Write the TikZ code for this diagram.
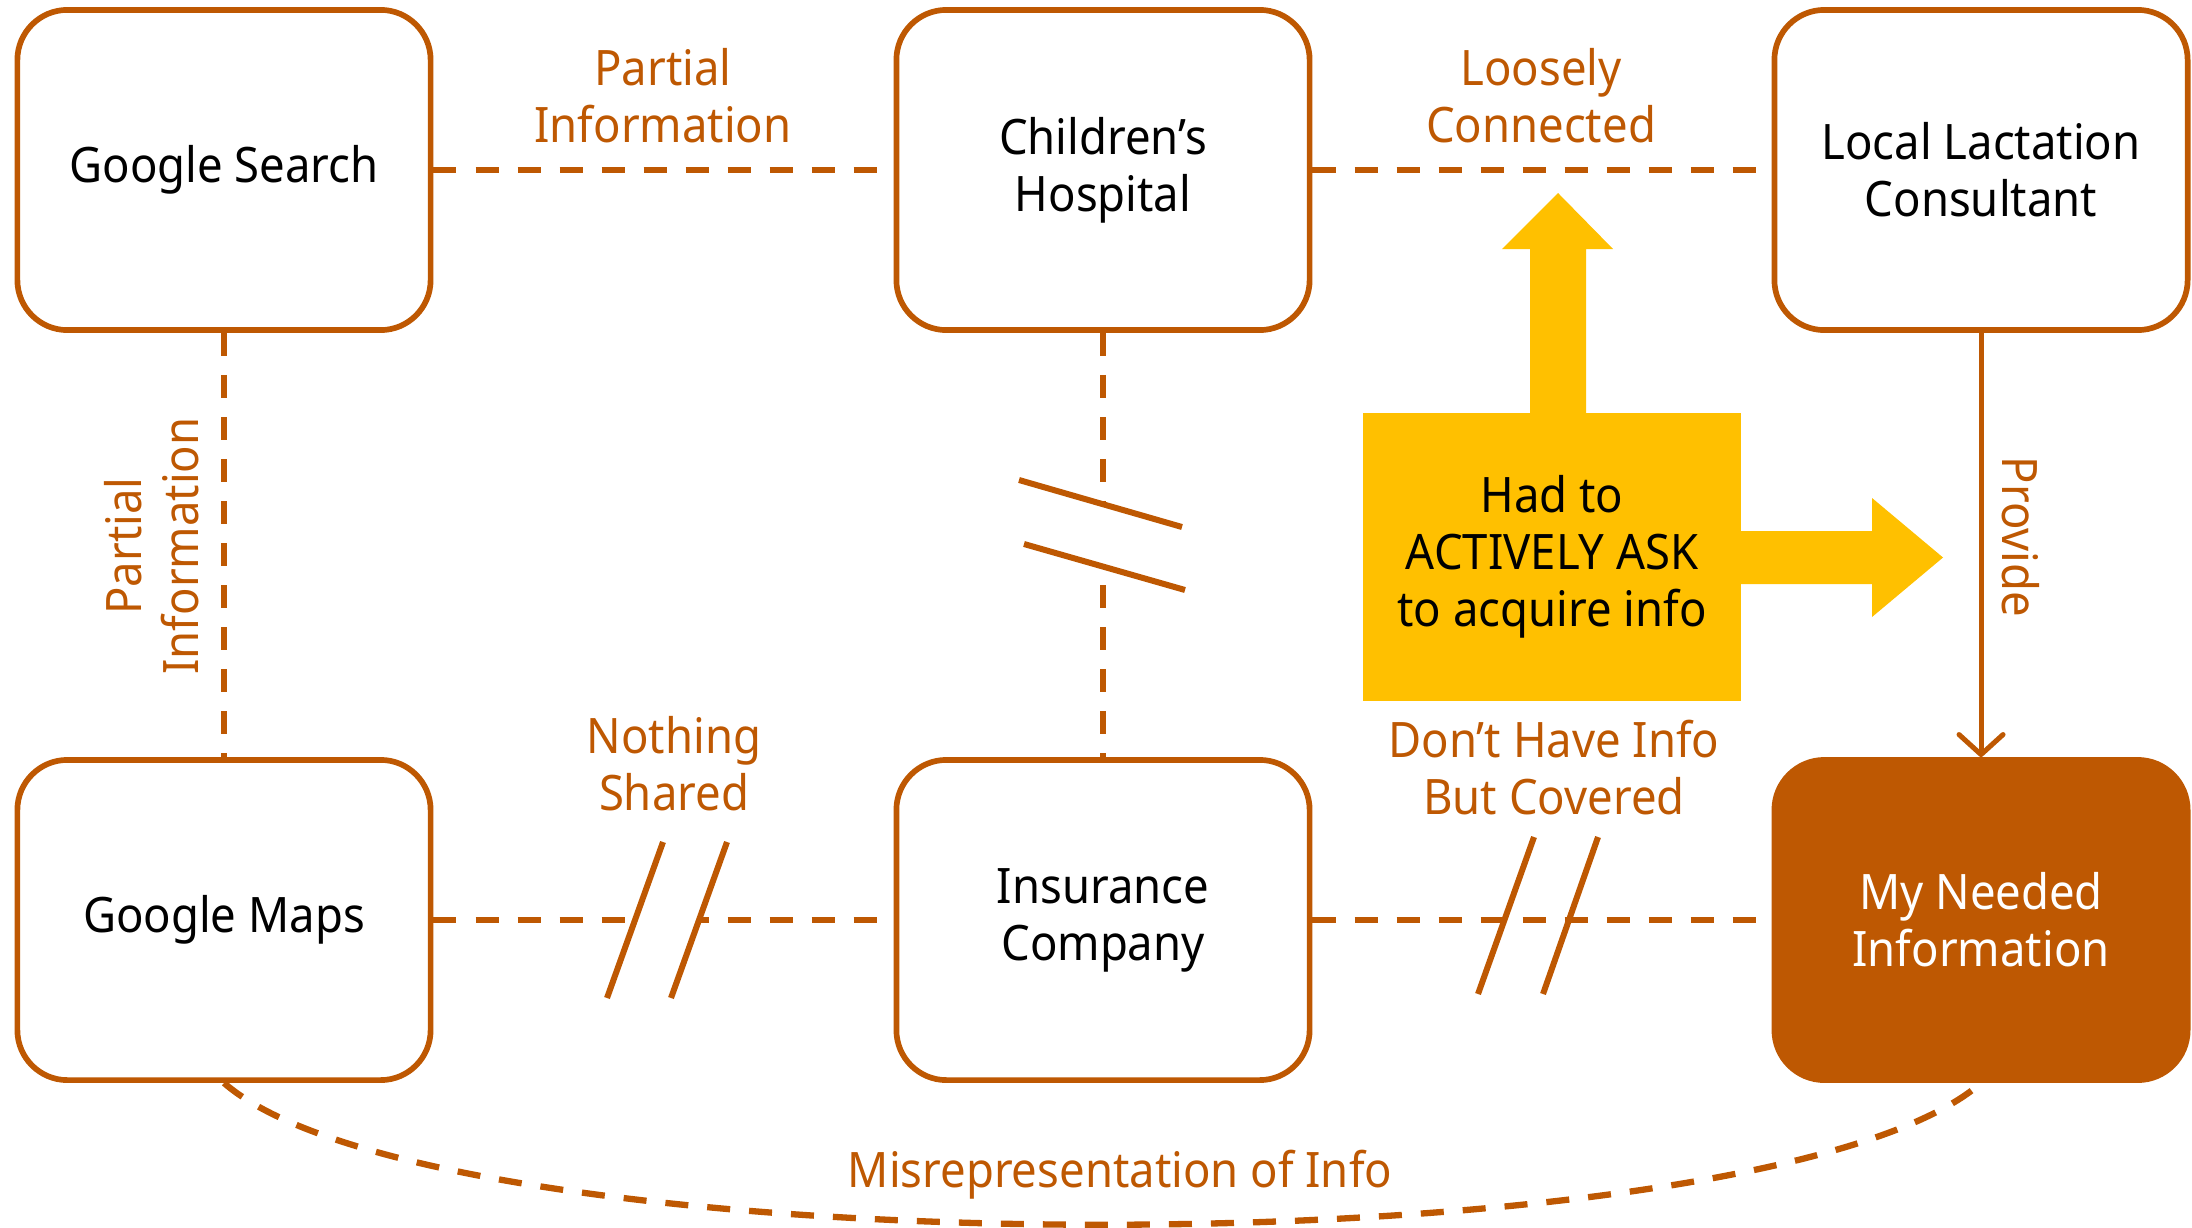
\documentclass[tikz,border=0pt]{standalone}
\usepackage{fontspec}
\setmainfont{Noto Sans}[FakeStretch=0.93]
\usetikzlibrary{arrows.meta}
\definecolor{rust}{RGB}{190,88,2}
\definecolor{gold}{HTML}{FFC000}
\newcommand\dfont{\fontsize{13.9pt}{16.2pt}\selectfont}
\begin{document}
\begin{tikzpicture}[x=0.01cm,y=-0.01cm,
  every node/.style={font=\dfont},
  box/.style={draw=rust, line width=0.057cm, rounded corners=0.5cm, minimum width=4.13cm, minimum height=3.2cm, align=center, fill=white, inner sep=0pt},
  dline/.style={draw=rust, line width=0.063cm, dash pattern=on 0.23cm off 0.19cm},
  hatch/.style={draw=rust, line width=0.06cm},
  lab/.style={text=rust, align=center, inner sep=0pt},
  mask/.style={fill=white}
]
\useasboundingbox (0,0) rectangle (2192,1227);

% boxes
\node[box] (gs) at (224,170) {Google Search};
\node[box] (ch) at (1103,170) {Children’s\\Hospital};
\node[box] (ll) at (1981,170) {Local Lactation\\Consultant};
\node[box] (gm) at (224,920) {Google Maps};
\node[box] (ins) at (1103,920) {Insurance\\Company};
\node[box, fill=rust, text=white] (mni) at (1981,920) {My Needed\\Information};

% connectors
\draw[dline] (gs.east) -- (ch.west);
\draw[dline] (ch.east) -- (ll.west);
\draw[dline] (gs.south) -- (gm.north);
\draw[dline] (ch.south) -- (ins.north);
\draw[dline] (gm.east) -- (ins.west);
\draw[dline] (ins.east) -- (mni.west);
\draw[dline] (gm.south) .. controls (440,1272) and (1765,1272) .. (mni.south);
\draw[rust, line width=0.05cm, -{Straight Barb[length=0.2cm, width=0.44cm, round]}] (ll.south) -- (mni.north);

% break marks
\fill[mask] (1019,480) -- (1182,527) -- (1185,590) -- (1024,544) -- cycle;
\fill[mask] (663,842) -- (727,842) -- (671,998) -- (607,998) -- cycle;
\draw[hatch] (1019,480) -- (1182,527);
\draw[hatch] (1024,544) -- (1185,590);
\draw[hatch] (663,842) -- (607,998);
\draw[hatch] (727,842) -- (671,998);
\draw[hatch] (1534,837) -- (1478,994);
\draw[hatch] (1598,837) -- (1543,994);

% yellow callout
\fill[gold] (1530,414) -- (1530,249) -- (1502,249) -- (1558,193) -- (1613,249) -- (1586,249) -- (1586,414) -- cycle;
\fill[gold] (1740,531) -- (1872,531) -- (1872,498) -- (1943,557.5) -- (1872,617) -- (1872,584) -- (1740,584) -- cycle;
\node[fill=gold, minimum width=3.78cm, minimum height=2.88cm, inner sep=0pt, align=center] (ask) at (1552,557) {Had to\\ACTIVELY ASK\\to acquire info};

% labels
\node[lab, anchor=south] (l1) at (663,144) {Partial\\Information};
\node[lab, anchor=south] (l2) at (1541,144) {Loosely\\Connected};
\node[lab, anchor=south, rotate=90] (l3) at (200,546) {Partial\\Information};
\node[lab, anchor=south] (l4) at (674,812) {Nothing\\Shared};
\node[lab, anchor=south] (l5) at (1554,816) {Don’t Have Info\\But Covered};
\node[lab, anchor=south, rotate=-90] (l6) at (2001,537) {Provide};
\node[lab, anchor=base] (l7) at (1120,1187) {Misrepresentation of Info};
\end{tikzpicture}
\end{document}
